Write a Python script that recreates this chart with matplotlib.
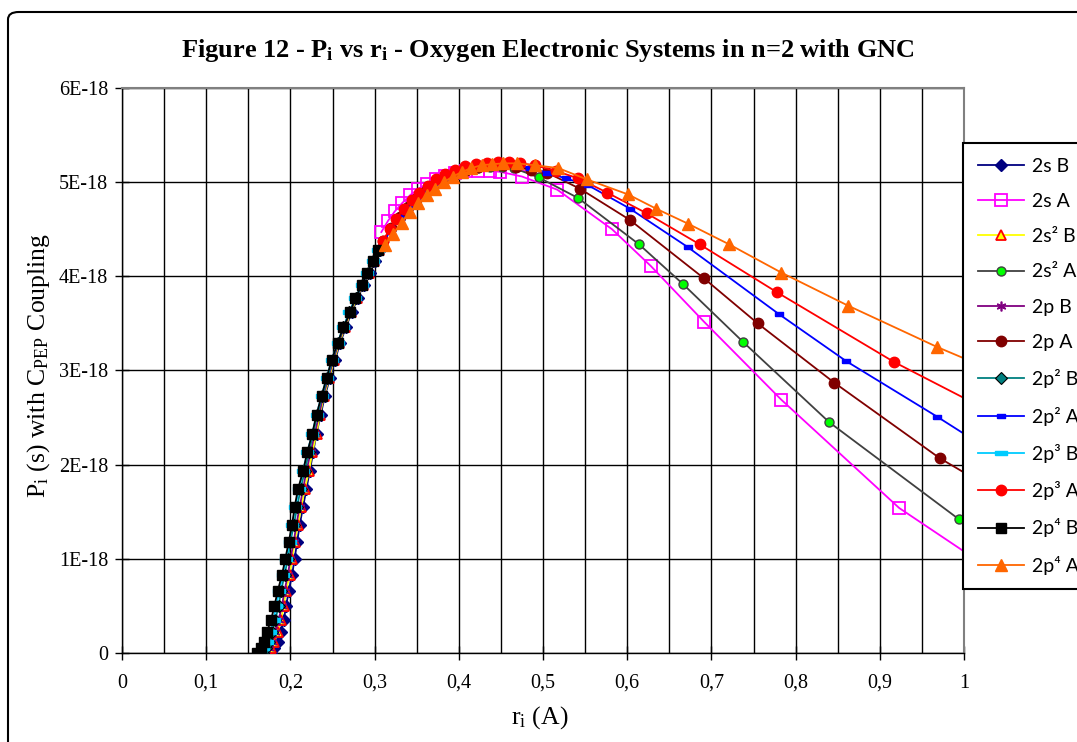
import matplotlib
matplotlib.use('Agg')
import matplotlib.pyplot as plt
from matplotlib.ticker import MultipleLocator, FuncFormatter
from matplotlib.patches import FancyBboxPatch

plt.rcParams['font.family'] = 'Liberation Serif'
plt.rcParams['mathtext.fontset'] = 'custom'
plt.rcParams['mathtext.rm'] = 'Liberation Serif'
plt.rcParams['mathtext.it'] = 'Liberation Serif:italic'
plt.rcParams['mathtext.bf'] = 'Liberation Serif:bold'

# valeurs en unites de 1E-18
# series B (montee, r de 0.16 a 0.31)
y_B = [0.00, 0.05, 0.12, 0.22, 0.35, 0.50, 0.66, 0.83, 1.00, 1.18, 1.36, 1.55, 1.74, 1.93,
       2.13, 2.33, 2.53, 2.73, 2.92, 3.11, 3.29, 3.46, 3.62, 3.77, 3.91, 4.04, 4.16, 4.28]
x_2sB = [0.177, 0.181, 0.185, 0.189, 0.192, 0.195, 0.198, 0.202, 0.205, 0.208, 0.211, 0.215, 0.219, 0.223,
         0.227, 0.231, 0.236, 0.241, 0.247, 0.253, 0.259, 0.266, 0.273, 0.280, 0.287, 0.294, 0.300, 0.306]
x_2s2B = [0.173, 0.177, 0.181, 0.185, 0.189, 0.192, 0.195, 0.199, 0.202, 0.205, 0.209, 0.213, 0.217, 0.222,
          0.226, 0.231, 0.235, 0.240, 0.246, 0.252, 0.258, 0.265, 0.272, 0.279, 0.286, 0.293, 0.299, 0.305]
x_2pB = [0.170, 0.174, 0.178, 0.182, 0.186, 0.190, 0.193, 0.197, 0.200, 0.204, 0.207, 0.211, 0.215, 0.219,
         0.224, 0.229, 0.234, 0.239, 0.245, 0.251, 0.257, 0.264, 0.271, 0.278, 0.286, 0.292, 0.299, 0.305]
x_2p2B = [0.167, 0.171, 0.175, 0.178, 0.182, 0.186, 0.189, 0.193, 0.197, 0.200, 0.204, 0.208, 0.212, 0.217,
          0.222, 0.227, 0.232, 0.238, 0.244, 0.250, 0.256, 0.263, 0.270, 0.278, 0.285, 0.292, 0.298, 0.305]
x_2p3B = [0.164, 0.168, 0.172, 0.176, 0.180, 0.183, 0.187, 0.191, 0.195, 0.199, 0.202, 0.206, 0.210, 0.215,
          0.220, 0.226, 0.231, 0.237, 0.243, 0.249, 0.256, 0.263, 0.270, 0.277, 0.285, 0.291, 0.298, 0.304]
x_2p4B = [0.160, 0.165, 0.169, 0.172, 0.177, 0.181, 0.185, 0.190, 0.194, 0.198, 0.202, 0.205, 0.209, 0.215,
          0.220, 0.226, 0.231, 0.237, 0.243, 0.249, 0.256, 0.263, 0.271, 0.277, 0.285, 0.291, 0.298, 0.304]

# series A (r de 0.31 a 1)
x_2sA = [0.308, 0.316, 0.324, 0.333, 0.342, 0.352, 0.362, 0.373, 0.384, 0.396, 0.409, 0.423, 0.437, 0.449,
         0.475, 0.517, 0.582, 0.628, 0.691, 0.783, 0.923, 1.12]
y_2sA = [4.47, 4.59, 4.69, 4.78, 4.86, 4.93, 4.98, 5.03, 5.07, 5.10, 5.12, 5.12, 5.12, 5.11,
         5.06, 4.92, 4.50, 4.11, 3.52, 2.69, 1.54, 0.36]
x_2s2A = [0.310, 0.320, 0.330, 0.340, 0.350, 0.361, 0.372, 0.384, 0.396, 0.409, 0.423, 0.437, 0.451, 0.465,
          0.495, 0.542, 0.614, 0.666, 0.738, 0.840, 0.994, 1.15]
y_2s2A = [4.37, 4.51, 4.63, 4.73, 4.82, 4.90, 4.97, 5.03, 5.08, 5.12, 5.15, 5.16, 5.16, 5.15,
          5.05, 4.83, 4.34, 3.92, 3.30, 2.45, 1.42, 0.62]
x_2pA = [0.310, 0.320, 0.330, 0.340, 0.350, 0.361, 0.372, 0.384, 0.396, 0.409, 0.423, 0.437, 0.452, 0.468,
         0.486, 0.505, 0.544, 0.603, 0.691, 0.755, 0.846, 0.971, 1.10]
y_2pA = [4.37, 4.51, 4.63, 4.74, 4.83, 4.91, 4.98, 5.04, 5.09, 5.13, 5.16, 5.18, 5.18, 5.16,
         5.13, 5.10, 4.93, 4.60, 3.98, 3.50, 2.87, 2.07, 1.39]
x_2p2A = [0.310, 0.320, 0.330, 0.340, 0.350, 0.361, 0.372, 0.384, 0.396, 0.409, 0.423, 0.437, 0.452, 0.468,
          0.485, 0.505, 0.527, 0.553, 0.603, 0.672, 0.780, 0.860, 0.968, 1.10]
y_2p2A = [4.36, 4.50, 4.62, 4.73, 4.82, 4.90, 4.98, 5.04, 5.10, 5.14, 5.17, 5.19, 5.19, 5.18,
          5.15, 5.10, 5.04, 4.97, 4.72, 4.31, 3.60, 3.10, 2.51, 1.76]
x_2p3A = [0.310, 0.318, 0.326, 0.335, 0.344, 0.353, 0.363, 0.373, 0.384, 0.395, 0.407, 0.420, 0.433, 0.447,
          0.460, 0.473, 0.490, 0.515, 0.542, 0.576, 0.623, 0.686, 0.778, 0.917, 1.08]
y_2p3A = [4.38, 4.50, 4.61, 4.72, 4.81, 4.89, 4.96, 5.03, 5.09, 5.13, 5.17, 5.19, 5.20, 5.21,
          5.21, 5.20, 5.18, 5.12, 5.04, 4.89, 4.67, 4.34, 3.83, 3.09, 2.34]
x_2p4A = [0.312, 0.322, 0.332, 0.342, 0.352, 0.362, 0.372, 0.382, 0.393, 0.404, 0.415, 0.427, 0.439, 0.453,
          0.469, 0.490, 0.518, 0.552, 0.601, 0.634, 0.672, 0.721, 0.783, 0.862, 0.968, 1.09]
y_2p4A = [4.33, 4.45, 4.57, 4.68, 4.78, 4.86, 4.93, 5.00, 5.06, 5.11, 5.15, 5.18, 5.19, 5.20,
          5.20, 5.18, 5.15, 5.03, 4.87, 4.72, 4.56, 4.34, 4.04, 3.69, 3.25, 2.79]

labels = ['2s B', '2s A', '2s² B', '2s² A', '2p B', '2p A',
          '2p² B', '2p² A', '2p³ B', '2p³ A', '2p⁴ B', '2p⁴ A']

# petit rectangle plein (marqueur "tiret" d'Excel)
dash = [(-1, -0.4), (1, -0.4), (1, 0.4), (-1, 0.4), (-1, -0.4)]

series = [
    (x_2sB, y_B, dict(color='#000080', marker='D', ms=6, mfc='#000080', mec='#000080')),
    (x_2sA, y_2sA, dict(color='#FF00FF', marker='s', ms=8, mfc='none', mec='#FF00FF', mew=1.3)),
    (x_2s2B, y_B, dict(color='#FFFF00', marker='^', ms=7, mfc='#FFFF00', mec='#FF0000', mew=1.3)),
    (x_2s2A, y_2s2A, dict(color='#404040', marker='o', ms=6.5, mfc='#00FF00', mec='#404040', mew=1)),
    (x_2pB, y_B, dict(color='#800080', marker=(6, 2, 0), ms=7, mec='#800080', mew=1.2)),
    (x_2pA, y_2pA, dict(color='#800000', marker='o', ms=7.5, mfc='#800000', mec='#800000')),
    (x_2p2B, y_B, dict(color='#008080', marker='D', ms=6, mfc='#008080', mec='black', mew=0.8)),
    (x_2p2A, y_2p2A, dict(color='#0000FF', marker=dash, ms=6, mfc='#0000FF', mec='#0000FF')),
    (x_2p3B, y_B, dict(color='#00CCFF', marker=dash, ms=8, mfc='#00CCFF', mec='#00CCFF')),
    (x_2p3A, y_2p3A, dict(color='#FF0000', marker='o', ms=7.5, mfc='#FF0000', mec='#FF0000')),
    (x_2p4B, y_B, dict(color='black', marker='s', ms=7.5, mfc='black', mec='black')),
    (x_2p4A, y_2p4A, dict(color='#FF6600', marker='^', ms=9, mfc='#FF6600', mec='#FF6600')),
]

fig = plt.figure(figsize=(10.77, 7.42), dpi=100)
ax = fig.add_axes([122 / 1077, 1 - 653 / 742, 842 / 1077, 565 / 742])

for lab, (xs, ys, st) in zip(labels, series):
    ax.plot(xs, [v * 1e-18 for v in ys], lw=1.3, label=lab, zorder=3, **st)

ax.set_xlim(0, 1)
ax.set_ylim(0, 6e-18)
ax.xaxis.set_major_locator(MultipleLocator(0.1))
ax.xaxis.set_minor_locator(MultipleLocator(0.05))
ax.yaxis.set_major_locator(MultipleLocator(1e-18))
ax.xaxis.set_major_formatter(FuncFormatter(
    lambda v, p: '0' if abs(v) < 1e-9 else ('1' if abs(v - 1) < 1e-9 else f'{v:.1f}'.replace('.', ','))))
ax.yaxis.set_major_formatter(FuncFormatter(
    lambda v, p: '0' if abs(v) < 1e-30 else f'{round(v / 1e-18)}E-18'))

ax.grid(which='both', axis='x', color='black', lw=1.0, zorder=1)
ax.grid(which='major', axis='y', color='black', lw=1.0, zorder=1)
ax.set_axisbelow(True)
ax.tick_params(which='major', direction='inout', length=10, width=1, labelsize=14.5, pad=5)
ax.tick_params(axis='x', which='major', pad=10)
ax.tick_params(which='minor', length=0)

for s in ['top', 'right']:
    ax.spines[s].set_color('#808080')
    ax.spines[s].set_linewidth(1.5)
for s in ['left', 'bottom']:
    ax.spines[s].set_color('black')
    ax.spines[s].set_linewidth(1.0)

fig.text(548 / 1077, 1 - 50 / 742,
         r'Figure 12 - P$_\mathbf{i}$ vs r$_\mathbf{i}$ - Oxygen Electronic Systems in n=2 with GNC',
         fontweight='bold', fontsize=19, ha='center', va='center')
fig.text(540 / 1077, 1 - 718 / 742, r'r$_\mathrm{i}$ (A)', fontsize=18.5, ha='center', va='center')
fig.text(39 / 1077, 1 - 365 / 742, r'P$_\mathrm{i}$ (s) with C$_\mathrm{PEP}$ Coupling',
         fontsize=18.5, rotation=90, ha='center', va='center')

handles, labs = ax.get_legend_handles_labels()
leg = fig.legend(handles, labs, loc='upper left', bbox_to_anchor=(963 / 1077, 1 - 143 / 742),
                 prop={'family': ['Lato', 'DejaVu Sans'], 'size': 14},
                 frameon=True, fancybox=False, edgecolor='black', framealpha=1,
                 handlelength=2.4, handletextpad=0.4, borderpad=0.75, labelspacing=0.94,
                 borderaxespad=0)
leg.get_frame().set_linewidth(1.5)

# cadre exterieur du graphique
cadre = FancyBboxPatch((8 / 1077, -0.2), 1.2, 0.2 + 1 - 12 / 742,
                       boxstyle='round,pad=0,rounding_size=0.01', transform=fig.transFigure,
                       fill=False, lw=1.5, edgecolor='black')
fig.patches.append(cadre)

fig.savefig('out.png', dpi=100)
